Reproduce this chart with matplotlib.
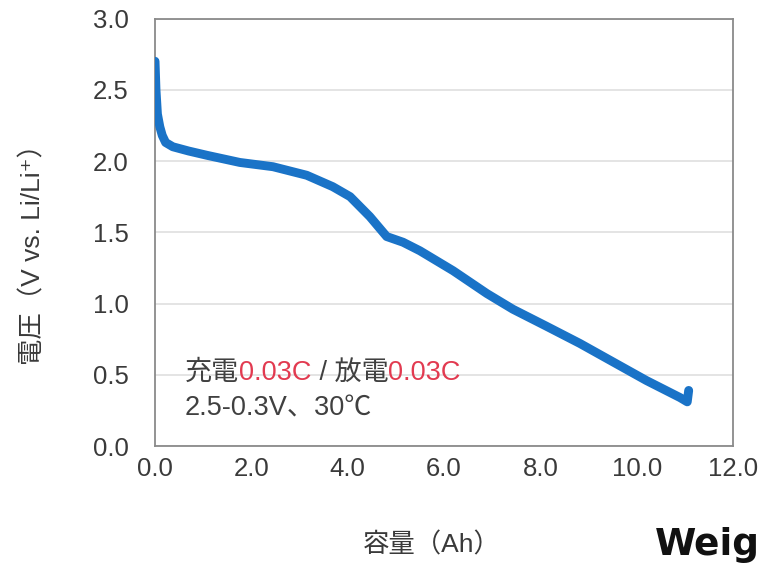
import matplotlib
matplotlib.use("Agg")
import matplotlib.pyplot as plt

plt.rcParams['font.family'] = ['Liberation Sans', 'Noto Sans CJK JP', 'DejaVu Sans']

# Discharge curve: capacity (Ah) vs. voltage (V vs. Li/Li+)
capacity = [0.00, 0.02, 0.05, 0.10, 0.15, 0.22, 0.37, 0.70, 1.08, 1.76, 2.45,
            3.15, 3.69, 4.05, 4.46, 4.81, 5.15, 5.50, 6.19, 6.89, 7.43, 8.13,
            8.82, 9.51, 10.20, 10.90, 11.05, 11.08]
voltage = [2.70, 2.50, 2.33, 2.24, 2.18, 2.13, 2.10, 2.07, 2.04, 1.99, 1.96,
           1.90, 1.82, 1.75, 1.61, 1.47, 1.43, 1.37, 1.23, 1.07, 0.96, 0.84,
           0.72, 0.59, 0.46, 0.34, 0.31, 0.39]

x_ticks = [0, 2, 4, 6, 8, 10, 12]
y_ticks = [0.0, 0.5, 1.0, 1.5, 2.0, 2.5, 3.0]

W, H = 761, 563
fig = plt.figure(figsize=(W / 100, H / 100), dpi=100)
ax = fig.add_axes([0.2037, 0.2078, 0.7595, 0.7593])

ax.plot(capacity, voltage, color='#1a73c7', lw=6.4,
        solid_capstyle='round', solid_joinstyle='round', zorder=3)

ax.set_xlim(0, 12)
ax.set_ylim(0, 3)
ax.set_xticks(x_ticks)
ax.set_xticklabels([f"{v:.1f}" for v in x_ticks])
ax.set_yticks(y_ticks)
ax.set_yticklabels([f"{v:.1f}" for v in y_ticks])
ax.tick_params(length=0, labelsize=18.5, labelcolor='#3a3a3a')
ax.tick_params(axis='y', pad=19)
ax.tick_params(axis='x', pad=8)

ax.yaxis.grid(True, color='#dcdcdc', lw=1.1)
ax.set_axisbelow(True)
for side in ['left', 'bottom', 'top', 'right']:
    ax.spines[side].set_color('#8a8a8a')
    ax.spines[side].set_linewidth(1.3)

# Test conditions, with the C-rates in red
gray = '#404040'
red = '#e23a50'
pieces = [("充電", gray), ("0.03C", red), (" / 放電", gray), ("0.03C", red)]
t = ax.text(185, H - 373, pieces[0][0], transform=None, fontsize=19.5,
            color=pieces[0][1], va='center', ha='left')
for s, c in pieces[1:]:
    t = ax.annotate(s, xy=(1, 0), xycoords=t, fontsize=19.5, color=c,
                    va='bottom', ha='left')
ax.text(185, H - 408, "2.5-0.3V、30℃", transform=None, fontsize=19.5,
        color=gray, va='center', ha='left')

fig.text(432 / W, 1 - 545 / H, "容量（Ah）", fontsize=19, color='#3a3a3a',
         ha='center', va='center')
fig.text(33 / W, 1 - 248 / H, "電圧（V vs. Li/Li⁺）", fontsize=19,
         color='#3a3a3a', ha='center', va='center', rotation=90)

fig.text(655 / W, 1 - 555 / H, "Weig", fontsize=27, fontweight='bold',
         family=['DejaVu Sans'], color='#111111',
         ha='left', va='baseline')

fig.savefig("out.png", dpi=100)
